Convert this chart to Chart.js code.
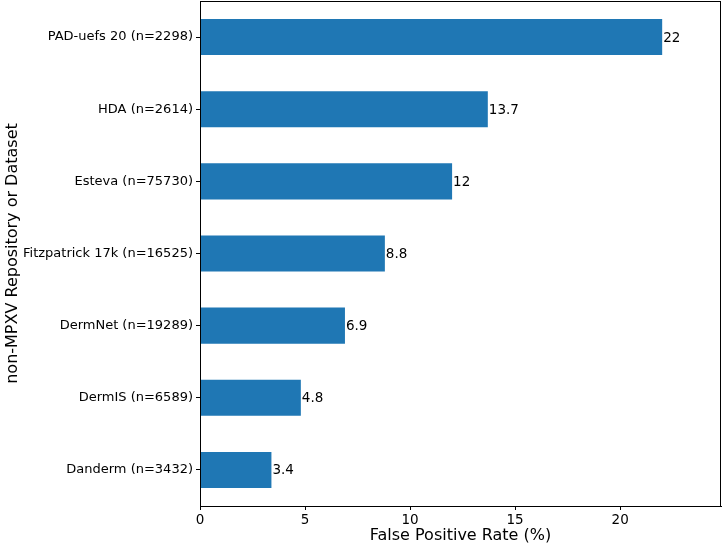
<!DOCTYPE html>
<html>
<head>
<meta charset="utf-8">
<script src="https://cdn.jsdelivr.net/npm/chart.js@4.4.0/dist/chart.umd.min.js"></script>
<style>
html,body{margin:0;padding:0;background:#fff;}
#wrap{width:722px;height:545px;}
</style>
</head>
<body>
<div id="wrap"><canvas id="c" width="722" height="545"></canvas></div>
<script>
const categories = ["PAD-uefs 20 (n=2298)", "HDA (n=2614)", "Esteva (n=75730)", "Fitzpatrick 17k (n=16525)", "DermNet (n=19289)", "DermIS (n=6589)", "Danderm (n=3432)"];
const fprValues = [22, 13.7, 12, 8.8, 6.9, 4.8, 3.4];
const valueLabels = ["22", "13.7", "12", "8.8", "6.9", "4.8", "3.4"];
const xTicks = [0, 5, 10, 15, 20];

const FONT = "'DejaVu Sans', sans-serif";

const barLabels = {
  id: 'barLabels',
  afterDatasetsDraw(chart) {
    const ctx = chart.ctx;
    const meta = chart.getDatasetMeta(0);
    ctx.save();
    ctx.font = "13.5px " + FONT;
    ctx.fillStyle = "#000";
    ctx.textAlign = "left";
    ctx.textBaseline = "middle";
    meta.data.forEach((bar, i) => {
      ctx.fillText(valueLabels[i], bar.x + 1, bar.y + 1);
    });
    ctx.restore();
  }
};

const frame = {
  id: 'frame',
  afterDraw(chart) {
    const a = chart.chartArea;
    const ctx = chart.ctx;
    ctx.save();
    ctx.strokeStyle = "#000";
    ctx.lineWidth = 1;
    ctx.strokeRect(Math.round(a.left) + 0.5, Math.round(a.top) + 0.5, Math.round(a.right - a.left) - 1, Math.round(a.bottom - a.top));
    ctx.restore();
  }
};

new Chart(document.getElementById('c'), {
  type: 'bar',
  data: {
    labels: categories,
    datasets: [{
      data: fprValues,
      backgroundColor: '#1f77b4',
      borderWidth: 0,
      categoryPercentage: 0.5,
      barPercentage: 1.0
    }]
  },
  options: {
    indexAxis: 'y',
    responsive: false,
    animation: false,
    devicePixelRatio: 1,
    layout: { padding: { top: 1, right: 1, left: 0, bottom: 0 } },
    plugins: { legend: { display: false }, tooltip: { enabled: false } },
    scales: {
      x: {
        min: 0,
        max: 24.8,
        afterFit(s) { s.height = 39; s.paddingLeft = 0; s.paddingRight = 0; },
        afterBuildTicks(s) { s.ticks = xTicks.map(v => ({ value: v })); },
        grid: { display: true, drawOnChartArea: false, drawTicks: true, tickLength: 4, color: '#000', lineWidth: 1 },
        border: { display: true, color: '#000', width: 1 },
        ticks: { color: '#000', font: { family: FONT, size: 13.5 }, padding: 2 },
        title: { display: true, text: 'False Positive Rate (%)', color: '#000', font: { family: FONT, size: 16 }, padding: { top: 0, bottom: 0 } }
      },
      y: {
        afterFit(s) { s.width = 200; s.paddingTop = 0; s.paddingBottom = 0; },
        grid: { display: true, offset: false, drawOnChartArea: false, drawTicks: true, tickLength: 4, color: '#000', lineWidth: 1 },
        border: { display: true, color: '#000', width: 1 },
        ticks: { color: '#000', font: { family: FONT, size: 13 }, padding: 3 },
        title: { display: true, text: 'non-MPXV Repository or Dataset', color: '#000', font: { family: FONT, size: 16 }, padding: { top: 3, bottom: 0 } }
      }
    }
  },
  plugins: [barLabels, frame]
});
</script>
</body>
</html>
